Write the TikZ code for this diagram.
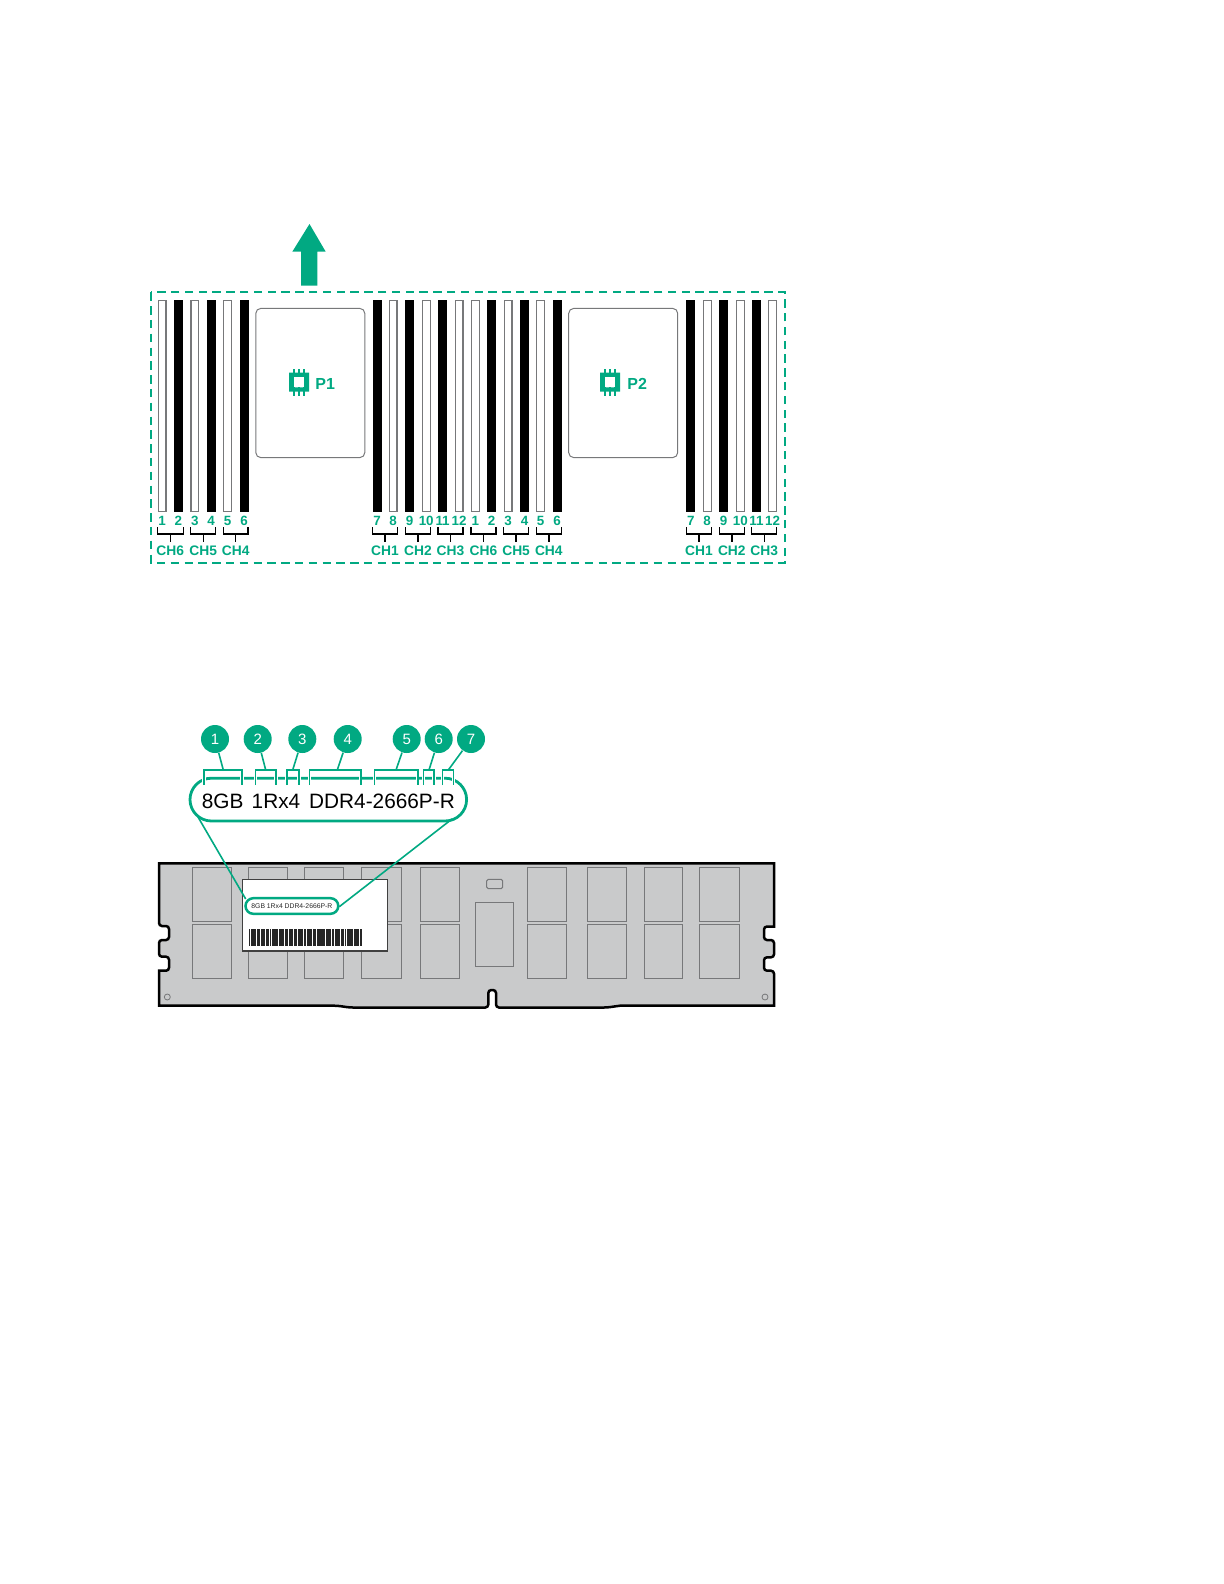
\documentclass[tikz,border=0pt]{standalone}
\usepackage{fontspec}
\setmainfont{Liberation Sans}
\definecolor{hpegreen}{HTML}{01A982}
\definecolor{dimmgray}{HTML}{C9CACB}
\definecolor{chipline}{HTML}{77787A}
\tikzset{
  slotbox/.style={draw=#1, line width=0.6pt, minimum width=3.9pt, minimum height=105.8pt, inner sep=0pt},
  slotnum/.style={text=hpegreen, font=\bfseries\fontsize{6.7}{7}\selectfont, inner sep=0pt},
  chname/.style={text=hpegreen, font=\bfseries\fontsize{6.9}{7}\selectfont, inner sep=0pt},
  cpubox/.style={draw=chipline, line width=0.5pt, rounded corners=2.5pt, minimum width=54.5pt, minimum height=74.6pt, inner sep=0pt},
  cpuname/.style={text=hpegreen, font=\bfseries\fontsize{8}{8}\selectfont, inner sep=0pt},
  callout/.style={circle, fill=hpegreen, text=white, minimum size=14pt, inner sep=0pt, font=\fontsize{7.5}{8}\selectfont},
  tagtext/.style={anchor=base, inner sep=0pt, font=\fontsize{10.4}{11}\selectfont},
  chipbox/.style={draw=chipline, line width=0.5pt},
  green line/.style={draw=hpegreen, line width=0.8pt}
}
\begin{document}
\begin{tikzpicture}[x=0.5pt, y=-0.5pt, >=latex]
    % 1. Page size
    \useasboundingbox (0,0) rectangle (1224,1584);

    % 2. Dashed frame and arrow
    \draw[hpegreen, line width=1pt, dash pattern=on 4.2pt off 2.7pt] (151.3,292.3) rectangle (785,562.7);
    \fill[hpegreen] (309.5,224) -- (325.7,251.7) -- (317.3,251.7) -- (317.3,285.7)
        -- (301,285.7) -- (301,251.7) -- (292.3,251.7) -- cycle;

    % 3. Slots: white = 0, black = 1
    \foreach \g/\x/\n/\k in {a/162/1/0, a/178.4/2/1, a/194.8/3/0, a/211.2/4/1, a/227.6/5/0, a/244/6/1,
                             b/377/7/1, b/393/8/0, b/409.7/9/1, b/426.2/10/0, b/442.6/11/1, b/459/12/0,
                             c/475.3/1/0, c/491.7/2/1, c/508/3/0, c/524.5/4/1, c/540.7/5/0, c/557/6/1,
                             d/690.8/7/1, d/707.2/8/0, d/723.5/9/1, d/740.3/10/0, d/756.5/11/1, d/772.5/12/0} {
        \ifnum\k=1
            \node[slotbox=black, fill=black] (slot\g\n) at (\x,406) {};
        \else
            \node[slotbox=chipline, fill=white] (slot\g\n) at (\x,406) {};
        \fi
        \node[slotnum] (num\g\n) at (\x,521) {\n};
    }

    % 4. Channel brackets
    \foreach \p/\q/\c/\t in {157.3/183.3/a6/CH6, 190.7/215.7/a5/CH5, 223.3/248/a4/CH4,
                             372.3/397.5/b1/CH1, 405.3/430.5/b2/CH2, 438/463/b3/CH3,
                             471/496/c6/CH6, 503.5/528.7/c5/CH5, 536.3/561.3/c4/CH4,
                             686.3/711.5/d1/CH1, 719.3/744.3/d2/CH2, 751.7/776.7/d3/CH3} {
        \draw[black, line width=0.7pt] (\p,527.3) -- (\p,534) -- (\q,534) -- (\q,527.3);
        \draw[black, line width=0.7pt] ({(\p+\q)/2},534) -- ({(\p+\q)/2},542.3);
        \node[chname] (ch\c) at ({(\p+\q)/2},551) {\t};
    }

    % 5. Processors
    \node[cpubox] (cpua) at (310.3,383) {};
    \node[cpubox] (cpub) at (623.2,383) {};
    \foreach \x/\t/\m in {289/P1/325.2, 600/P2/637.2} {
        \fill[hpegreen, even odd rule] (\x,372.7) rectangle ++(20,19) (\x+4.7,377.3) rectangle ++(10.3,10);
        \foreach \d in {5,10,15} {
            \draw[hpegreen, line width=0.6pt] (\x+\d,369) -- (\x+\d,395.7);
        }
        \fill[white] (\x+4.7,377.3) rectangle ++(10.3,10);
        \node[cpuname] (name\t) at (\m,384) {\t};
    }

    % 6. DIMM outline
    \draw[black, fill=dimmgray, line width=1.25pt]
        (159,863.3) -- (774,863.3) -- (774,926.5) [rounded corners=1.5pt] -- (764,926.5) -- (764,940) -- (774,940)
        -- (774,957.3) -- (764,957.3) -- (764,970.7) -- (774,970.7) [sharp corners] -- (774,1005.7)
        -- (620,1005.7) [rounded corners=1.5pt] -- (607,1007.5) -- (496,1007.5) -- (496,990) -- (488.3,990) -- (488.3,1007.5)
        -- (350,1007.5) -- (337,1005.7) [sharp corners] -- (159,1005.7) -- (159,970.7) [rounded corners=1.5pt] -- (169,970.7)
        -- (169,956.7) -- (159,956.7) -- (159,940) -- (169,940) -- (169,926) -- (159,926) [sharp corners] -- cycle;

    % 7. Memory chips
    \foreach \p/\q in {192/231.7, 248.3/287.7, 304.3/343.3, 361.7/401.7, 420.3/459.3,
                       527.3/566.7, 587/626.7, 644/682.7, 699.3/739.3} {
        \draw[chipbox] (\p,867.3) rectangle (\q,921.3);
        \draw[chipbox] (\p,924) rectangle (\q,978);
    }
    \draw[chipbox] (475.7,902.3) rectangle (513,966.3);
    \draw[chipbox, rounded corners=0.8pt] (486.7,879.3) rectangle (502.7,888.7);
    \draw[chipline, line width=0.4pt] (167.3,997) circle (1.5pt);
    \draw[chipline, line width=0.4pt] (765,997) circle (1.5pt);

    % 8. Label with barcode
    \draw[draw=black!75, fill=white, line width=0.6pt] (242.7,879.3) rectangle (387.3,951);
    \foreach \i in {0,...,59} {
        \pgfmathsetmacro\bw{0.7+0.45*mod(\i*7,5)}
        \fill[black!85] ({249.3+\i*1.87},929) rectangle ++(\bw,16.7);
    }
    \node[draw=hpegreen, line width=1.25pt, rounded corners=3.9pt, minimum width=46.4pt, minimum height=7.8pt, inner sep=0pt,
          font=\fontsize{3.4}{4}\selectfont, text=black!85] (smalltag) at (291.9,906) {8GB 1Rx4 DDR4-2666P-R};

    % 9. Enlarged label
    \node[draw=hpegreen, line width=1.4pt, rounded corners=10.7pt, minimum width=138.3pt, minimum height=21.4pt, inner sep=0pt] (bigtag) at (328.3,799.6) {};
    \node[tagtext] (tagsize) at (222.7,808) {8GB};
    \node[tagtext] (tagrank) at (276,808) {1Rx4};
    \node[tagtext] (tagtype) at (382,808) {DDR4-2666P-R};

    % 10. Leaders from the enlarged label down to the small one
    \coordinate (bigleft) at (198,817);
    \coordinate (bigright) at (452,819);
    \coordinate (smallleft) at (245.7,899);
    \coordinate (smallright) at (339.3,906.7);
    \draw[green line] (bigleft) -- (smallleft);
    \draw[green line] (bigright) -- (smallright);

    % 11. Callouts and their brackets
    \foreach \n/\x/\p/\q/\m in {1/215/204/242/223.3, 2/257.7/255.3/276/265.7, 3/302.3/286.7/299/292.7,
                                4/347.7/309.3/360.7/337.3, 5/406.7/374.3/417.7/396, 6/438.7/423.3/434/429,
                                7/471/442.3/453.3/448.3} {
        \node[callout] (call\n) at (\x,739) {\n};
        \coordinate (brace\n) at (\m,770);
        \draw[white, line width=1.6pt] (\p,774) -- (\p,785) (\q,774) -- (\q,785);
        \draw[green line] (\p,785) -- (\p,770) -- (\q,770) -- (\q,785);
        \draw[green line] (call\n) -- (brace\n);
    }
\end{tikzpicture}
\end{document}
